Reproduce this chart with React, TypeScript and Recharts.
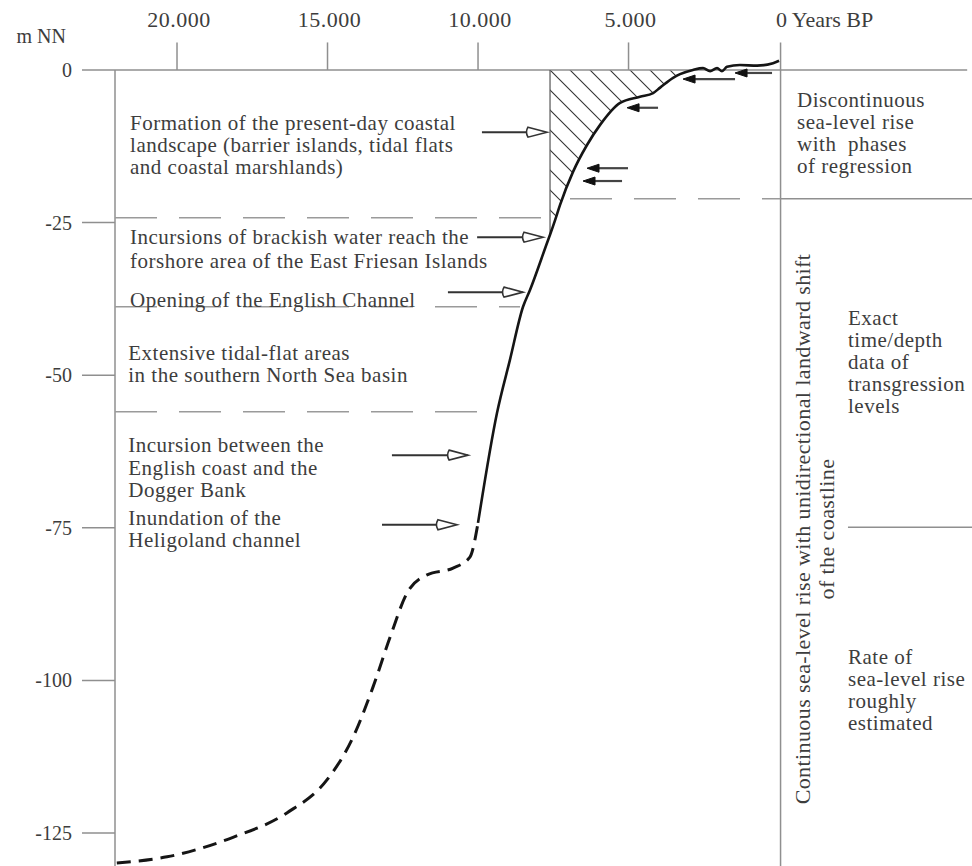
import React from 'react'
import { ComposedChart, Line, Area, XAxis, YAxis, ReferenceLine, ReferenceDot } from 'recharts'

// sea level curve, years BP (old -> young) against level in m NN
const earlyYears = [22000, 20330, 18140, 16350, 15020, 14150, 13490, 12920, 12360, 11690, 10830, 10270, 10000]
const earlyLevels = [-129.9, -128.9, -125.7, -121.7, -116.3, -109.3, -101.1, -92.9, -85.7, -82.7, -81.6, -79.8, -74.2]

const lateYears = [10000, 9370, 8940, 8505, 8270, 7675, 7608, 7440, 7275, 6845, 6380, 5945, 5280, 4620, 4185, 3950, 3520, 3290, 2860, 2525, 2290, 2060, 1895, 1730, 1300, 730, 200, 0]
const lateLevels = [-74.2, -56.2, -47.5, -38.8, -36.0, -27.9, -27.0, -24.6, -22.1, -16.7, -12.3, -9.0, -5.4, -4.4, -3.8, -2.9, -1.3, -0.7, 0, 0.3, -0.2, 0.3, -0.2, 0.5, 0.8, 0.7, 1.1, 1.5]

// hatched wedge between the curve and 0 m
const hatchStart = 7608
const hatchEnd = 2860

const yearTicks = [20000, 15000, 10000, 5000, 0]
const levelTicks = [0, -25, -50, -75, -100, -125]

// horizontal boundaries: [level, from year, to year]
const dashedBounds = [
  [-24.2, 22060, 7608],
  [-21.1, 6945, -50],
  [-38.8, 22060, 8605],
  [-56.0, 22060, 9700],
]
const panelRules = [
  [-21.1, -50, -6410],
  [-74.9, -2290, -6410],
]

// open arrows pointing at the curve: [level, tail, tip]
const openArrows = [
  [-10.2, 9870, 7710],
  [-27.4, 10030, 7840],
  [-36.4, 11000, 8505],
  [-63.1, 12860, 10330],
  [-74.5, 13190, 10700],
]
// small black arrows (regression phases): [level, tail, tip]
const blackArrows = [
  [-16.1, 5017, 6379],
  [-18.2, 5216, 6512],
  [-6.2, 4020, 5050],
  [-1.5, 1462, 3189],
  [-0.5, 233, 1462],
]

const notes = [
  { year: 21560, level: -9.8, step: 22, lines: ['Formation of the present-day coastal', 'landscape (barrier islands, tidal flats', 'and coastal marshlands)'] },
  { year: 21560, level: -28.5, step: 24, lines: ['Incursions of brackish water reach the', 'forshore area of the East Friesan Islands'] },
  { year: 21560, level: -38.8, step: 22, lines: ['Opening of the English Channel'] },
  { year: 21620, level: -47.5, step: 22, lines: ['Extensive tidal-flat areas', 'in the southern North Sea basin'] },
  { year: 21620, level: -62.6, step: 22.5, lines: ['Incursion between the', 'English coast and the', 'Dogger Bank'] },
  { year: 21620, level: -74.5, step: 22, lines: ['Inundation of the', 'Heligoland channel'] },
  { year: -598, level: -6.1, step: 22, lines: ['Discontinuous', 'sea-level rise', 'with  phases', 'of regression'] },
  { year: -2292, level: -41.8, step: 22, lines: ['Exact', 'time/depth', 'data of', 'transgression', 'levels'] },
  { year: -2292, level: -97.3, step: 22, lines: ['Rate of', 'sea-level rise', 'roughly', 'estimated'] },
]

const SERIF = '"Liberation Serif", "Times New Roman", serif'
const INK = '#3d3d3d'
const RULE = '#8f8f8f'

const rows = new Map<number, any>()
earlyYears.forEach((year, i) => rows.set(year, { year, dashed: earlyLevels[i] }))
lateYears.forEach((year, i) => {
  const row = rows.get(year) || { year }
  row.solid = lateLevels[i]
  if (year <= hatchStart && year >= hatchEnd) row.hatch = lateLevels[i]
  rows.set(year, row)
})
const data = Array.from(rows.values()).sort((a, b) => b.year - a.year)

const fmtYear = (v: number) => (v === 0 ? '0' : `${Math.floor(v / 1000)}.${String(v % 1000).padStart(3, '0')}`)

function TopTick({ x, y, payload }: any) {
  if (payload.value === 0) {
    return <text x={x - 3} y={y - 13} textAnchor="start" fill={INK} fontSize={22} fontFamily={SERIF}>0 Years BP</text>
  }
  return <text x={x + 2} y={y - 13} textAnchor="middle" fill={INK} fontSize={22} fontFamily={SERIF} letterSpacing={0.5}>{fmtYear(payload.value)}</text>
}

function LeftTick({ x, y, payload }: any) {
  return <text x={x} y={y + 7} textAnchor="end" fill={INK} fontSize={20} fontFamily={SERIF}>{payload.value}</text>
}

const openArrow = (p: any) => {
  const { x1, y1, x2 } = p
  const dir = Math.sign(x2 - x1)
  const base = x2 - dir * 19
  return (
    <g>
      <line x1={x1} y1={y1} x2={base + dir * 3} y2={y1} stroke="#333" strokeWidth={2} />
      <path d={`M${base},${y1 - 5} L${x2},${y1} L${base},${y1 + 5} Q${base - dir * 3},${y1} ${base},${y1 - 5}Z`} fill="#fff" stroke="#333" strokeWidth={1.6} />
    </g>
  )
}

const blackArrow = (p: any) => {
  const { x1, y1, x2 } = p
  const dir = Math.sign(x2 - x1)
  const base = x2 - dir * 12
  return (
    <g>
      <line x1={x1} y1={y1} x2={base} y2={y1} stroke="#444" strokeWidth={2.2} />
      <path d={`M${base},${y1 - 4} L${x2},${y1} L${base},${y1 + 4}Z`} fill="#111" stroke="#111" strokeWidth={1} />
    </g>
  )
}

const noteShape = (lines: string[], step: number) => (p: any) => (
  <text x={p.cx} y={p.cy} fill={INK} fontSize={21} letterSpacing={0.5} fontFamily={SERIF} style={{ whiteSpace: 'pre' }}>
    {lines.map((l, i) => (
      <tspan key={i} x={p.cx} dy={i === 0 ? 0 : step}>{l}</tspan>
    ))}
  </text>
)

const verticalNote = (p: any) => (
  <text
    x={p.cx}
    y={p.cy}
    transform={`rotate(-90 ${p.cx} ${p.cy})`}
    textAnchor="middle"
    fill={INK}
    fontSize={22}
    letterSpacing={0.4}
    fontFamily={SERIF}
  >
    <tspan x={p.cx} dy={0}>Continuous sea-level rise with unidirectional landward shift</tspan>
    <tspan x={p.cx} dy={24}>of the coastline</tspan>
  </text>
)

export default function App() {
  return (
    <div style={{ position: 'absolute', left: 0, top: 0, background: '#fff' }}>
      <ComposedChart width={972} height={866} data={data} margin={{ top: 0, right: 0, bottom: 0, left: 0 }} style={{ fontFamily: SERIF }}>
        <defs>
          <pattern id="hatch" patternUnits="userSpaceOnUse" width={20} height={20}>
            <path d="M0,0 L20,20 M-5,15 L5,25 M15,-5 L25,5" stroke="#333" strokeWidth={1.1} />
          </pattern>
        </defs>
        <XAxis
          xAxisId="t"
          dataKey="year"
          type="number"
          orientation="top"
          reversed
          domain={[-6410, 22060]}
          allowDataOverflow
          ticks={yearTicks}
          height={40}
          tickSize={0}
          tickMargin={0}
          tickLine={false}
          axisLine={false}
          tick={<TopTick />}
          interval={0}
        />
        <YAxis
          yAxisId="l"
          type="number"
          domain={[-130.4, 4.9]}
          allowDataOverflow
          ticks={levelTicks}
          width={115}
          tickSize={33}
          tickMargin={10}
          tickLine={{ stroke: RULE, strokeWidth: 1.5 }}
          axisLine={false}
          tick={<LeftTick />}
          interval={0}
          label={{
            content: (p: any) => (
              <text x={(p.viewBox?.x ?? 0) + 66} y={(p.viewBox?.y ?? 40) + 3} textAnchor="end" fill={INK} fontSize={20} fontFamily={SERIF}>m NN</text>
            ),
          }}
        />

        {/* frame */}
        <ReferenceLine xAxisId="t" yAxisId="l" segment={[{ x: 22060, y: 0 }, { x: -6250, y: 0 }]} stroke={RULE} strokeWidth={1.5} />
        <ReferenceLine xAxisId="t" yAxisId="l" segment={[{ x: 22060, y: 0 }, { x: 22060, y: -130.4 }]} stroke={RULE} strokeWidth={1.5} />
        <ReferenceLine xAxisId="t" yAxisId="l" segment={[{ x: -50, y: 4.5 }, { x: -50, y: -130.4 }]} stroke={RULE} strokeWidth={1.5} />
        {yearTicks.filter((t) => t !== 0).map((t) => (
          <ReferenceLine key={t} xAxisId="t" yAxisId="l" segment={[{ x: t, y: 0 }, { x: t, y: 4.5 }]} stroke={RULE} strokeWidth={1.5} />
        ))}

        {dashedBounds.map(([lv, a, b], i) => (
          <ReferenceLine key={`d${i}`} xAxisId="t" yAxisId="l" segment={[{ x: a, y: lv }, { x: b, y: lv }]} stroke="#9a9a9a" strokeWidth={1.5} strokeDasharray="42 22" />
        ))}
        {panelRules.map(([lv, a, b], i) => (
          <ReferenceLine key={`p${i}`} xAxisId="t" yAxisId="l" segment={[{ x: a, y: lv }, { x: b, y: lv }]} stroke={RULE} strokeWidth={1.5} />
        ))}

        <Area
          xAxisId="t"
          yAxisId="l"
          dataKey="hatch"
          type="monotone"
          baseValue={0}
          fill="url(#hatch)"
          fillOpacity={1}
          stroke="none"
          isAnimationActive={false}
          dot={false}
          activeDot={false}
        />
        <ReferenceLine xAxisId="t" yAxisId="l" segment={[{ x: hatchStart, y: 0 }, { x: hatchStart, y: -27.0 }]} stroke="#555" strokeWidth={1.2} />

        <Line
          xAxisId="t"
          yAxisId="l"
          dataKey="dashed"
          type="monotone"
          stroke="#151515"
          strokeWidth={3}
          strokeDasharray="14 8"
          dot={false}
          activeDot={false}
          isAnimationActive={false}
        />
        <Line
          xAxisId="t"
          yAxisId="l"
          dataKey="solid"
          type="monotone"
          stroke="#151515"
          strokeWidth={2.6}
          dot={false}
          activeDot={false}
          isAnimationActive={false}
        />

        {openArrows.map(([lv, a, b], i) => (
          <ReferenceLine key={`o${i}`} xAxisId="t" yAxisId="l" segment={[{ x: a, y: lv }, { x: b, y: lv }]} shape={openArrow} />
        ))}
        {blackArrows.map(([lv, a, b], i) => (
          <ReferenceLine key={`b${i}`} xAxisId="t" yAxisId="l" segment={[{ x: a, y: lv }, { x: b, y: lv }]} shape={blackArrow} />
        ))}

        {notes.map((n, i) => (
          <ReferenceDot key={`n${i}`} xAxisId="t" yAxisId="l" x={n.year} y={n.level} r={0} shape={noteShape(n.lines, n.step)} />
        ))}
        <ReferenceDot xAxisId="t" yAxisId="l" x={-1030} y={-75.2} r={0} shape={verticalNote} />
      </ComposedChart>
    </div>
  )
}
